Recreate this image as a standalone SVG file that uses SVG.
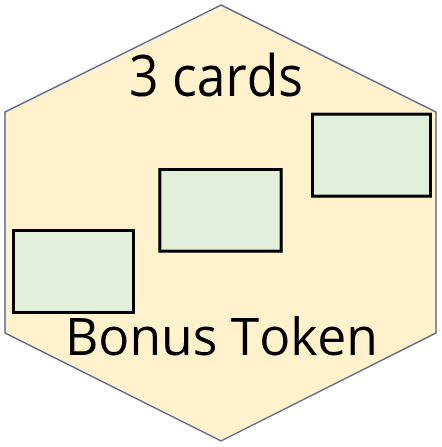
<svg xmlns="http://www.w3.org/2000/svg" width="442" height="447" viewBox="0 0 442 447">
  <style>
    .hex { fill: #FFF2CC; stroke: #5F6F8F; stroke-width: 1.5; }
    .card { fill: #E2EFDA; stroke: #000000; stroke-width: 3; }
    .label { font-family: "Open Sans", "Liberation Sans", sans-serif; fill: #000000; text-anchor: middle; }
  </style>
  <g id="token">
    <polygon class="hex" points="221,5 436,112 436,333 221,441 5,333 5,112"/>
  </g>
  <g id="card-right">
    <rect class="card" x="312.5" y="114.2" width="118" height="82"/>
  </g>
  <g id="card-middle">
    <rect class="card" x="159.8" y="169.5" width="121.4" height="81.7"/>
  </g>
  <g id="card-left">
    <rect class="card" x="13.5" y="230.5" width="120" height="82"/>
  </g>
  <g id="title">
    <text class="label" x="216" y="96" font-size="56" textLength="174" lengthAdjust="spacingAndGlyphs">3 cards</text>
  </g>
  <g id="caption">
    <text class="label" x="221.5" y="355" font-size="51" textLength="313" lengthAdjust="spacingAndGlyphs">Bonus Token</text>
  </g>
  <g id="connectors"/>
</svg>
